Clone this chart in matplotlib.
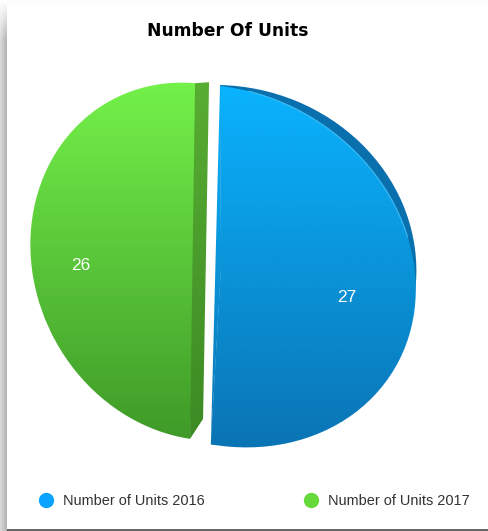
import numpy as np
import matplotlib
matplotlib.use("Agg")
import matplotlib.pyplot as plt
from matplotlib.colors import LinearSegmentedColormap
from matplotlib.lines import Line2D
from matplotlib.patches import Polygon, Wedge
from matplotlib.transforms import Affine2D

title = "Number Of Units"
labels = ["Number of Units 2016", "Number of Units 2017"]
values = [27, 26]
legend_colors = ["#0aa3ff", "#66d93a"]

W, H = 488, 531
START = 88.6


def unit_to_px(cx, cy, a, b, shear, tilt=0):
    # pie unit circle -> pixel position, with the lean of the 3d original
    return Affine2D.from_values(a, tilt, -shear, -b, cx, cy)


def gradient_fill(ax, patch, top, bottom, y0, y1):
    cmap = LinearSegmentedColormap.from_list("g", [top, bottom])
    grad = np.linspace(0, 1, 256).reshape(-1, 1)
    im = ax.imshow(grad, cmap=cmap, extent=(0, W, y1, y0), aspect="auto", zorder=patch.get_zorder())
    im.set_clip_path(patch)


fig = plt.figure(figsize=(W / 100, H / 100), dpi=100)
ax = fig.add_axes([0, 0, 1, 1])

wedges, _ = ax.pie(values, startangle=START, counterclock=False)
blue, green = wedges
blue_tf = unit_to_px(221.2, 266, 194.5, 180.5, 5.94, 18)
green_tf = unit_to_px(197.5, 261.6, 167, 178.7, 6.54, 10)

t0 = np.radians(START)
t1 = np.radians(START - 360 * values[0] / sum(values))
ends = np.array([[np.cos(t0), np.sin(t0)], [np.cos(t1), np.sin(t1)]])

# dark rim behind the blue slice
rim = Wedge(blue.center, blue.r, blue.theta1, blue.theta2, facecolor="#0a70ad", zorder=2)
ax.add_patch(rim)
rim.set_transform(unit_to_px(221.3, 265, 195, 180, 6.04) + ax.transData)

blue.set_transform(blue_tf + ax.transData)
blue.set_zorder(3)
blue.set_facecolor("none")
green.set_transform(green_tf + ax.transData)
green.set_zorder(3)
green.set_facecolor("none")
gradient_fill(ax, blue, "#0ab4ff", "#0a74b4", 80, 450)
gradient_fill(ax, green, "#74f24a", "#3f9a28", 78, 440)

# the slices are not exact halves, keep the straight edge of the blue one straight
b_top, b_bottom = blue_tf.transform(ends)
b_apex = blue_tf.transform((0, 0))
notch = Polygon([b_top, b_apex, b_bottom], closed=True, facecolor="none", edgecolor="none", zorder=3)
ax.add_patch(notch)
gradient_fill(ax, notch, "#0ab4ff", "#0a74b4", 80, 450)

# thin light line along the upper right of the blue slice
arc = np.radians(np.linspace(80, 15, 60))
arc_px = blue_tf.transform(np.column_stack([np.cos(arc), np.sin(arc)]))
ax.plot(arc_px[:, 0], arc_px[:, 1], color="#4cc8ff", lw=0.8, alpha=0.8, zorder=4)

# side face of the green slice, from the ends of its straight edge
top, bottom = green_tf.transform(ends)
side = Polygon([top, top + (14, -1), bottom + (13, -20), bottom], closed=True,
               facecolor="none", edgecolor="none", zorder=4)
ax.add_patch(side)
gradient_fill(ax, side, "#58ad33", "#3c8a24", 80, 440)

ax.text(347, 297, str(values[0]), color="white", fontsize=12.5, ha="center", va="center",
        family="Liberation Sans", zorder=6)
ax.text(81, 265, str(values[1]), color="white", fontsize=12.5, ha="center", va="center",
        family="Liberation Sans", zorder=6)
ax.text(228, 31.5, title, fontsize=12.3, fontweight="bold", ha="center", va="center",
        family="DejaVu Sans", color="black")

handles = [Line2D([], [], marker="o", ls="none", ms=10, color=c) for c in legend_colors]
ax.legend(handles, labels, loc="center left", bbox_to_anchor=(31.5 / W, 1 - 501 / H), ncol=2,
          frameon=False, prop={"family": "Liberation Sans", "size": 10.45}, labelcolor="#333333",
          borderpad=0, borderaxespad=0, handletextpad=0.17, columnspacing=6.35)

# soft page shadow on the left and top, dark line along the bottom
shade = np.ones((H, W))
fade = np.clip(np.arange(H) / 40, 0, 1).reshape(-1, 1)
shade[:, :7] = 1 - fade * (1 - np.linspace(0.85, 0.7, 7))
shade[:5, 7:] = 0.985
shade[-2:, 7:] = 0.4
ax.imshow(shade, cmap="gray", vmin=0, vmax=1, extent=(0, W, H, 0), aspect="auto", zorder=0)

ax.set_xlim(0, W)
ax.set_ylim(H, 0)
ax.set_aspect("auto")
ax.axis("off")
fig.savefig("out.png", dpi=100)
